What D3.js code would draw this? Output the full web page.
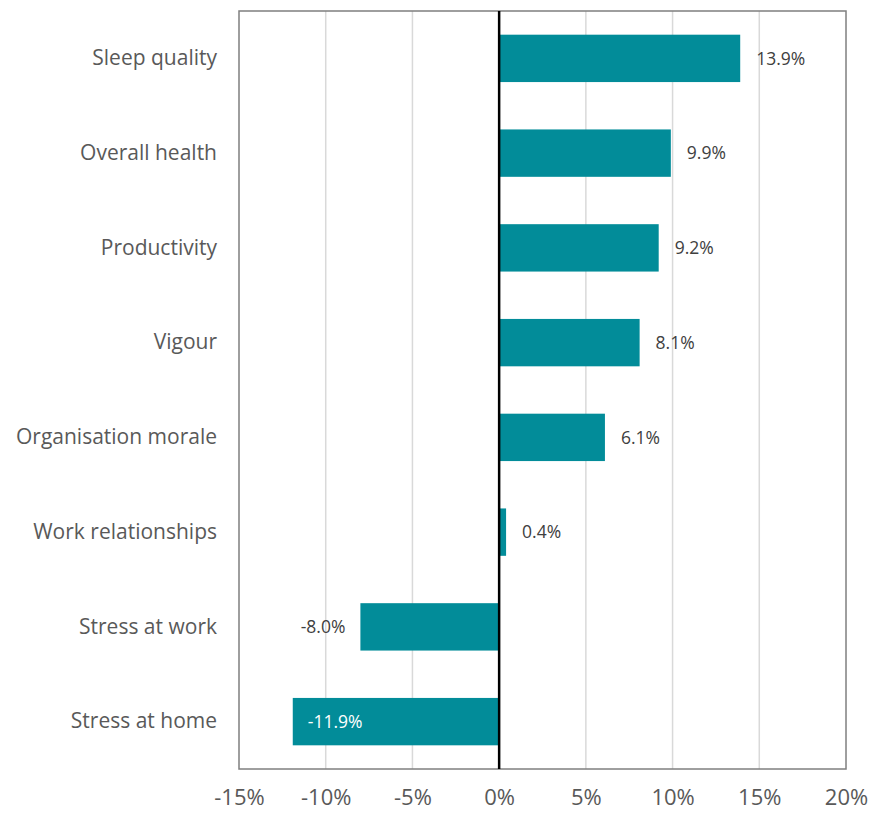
<!DOCTYPE html>
<html>
<head>
<meta charset="utf-8">
<script src="https://cdn.jsdelivr.net/npm/d3@7"></script>
<style>
  body { margin: 0; background: #fff; }
  text { font-family: "Open Sans", "Noto Sans", sans-serif; }
</style>
</head>
<body>
<div class="chart"></div>
<script>
var categories = ["Sleep quality", "Overall health", "Productivity", "Vigour",
    "Organisation morale", "Work relationships", "Stress at work", "Stress at home"];
var changes = [13.9, 9.9, 9.2, 8.1, 6.1, 0.4, -8.0, -11.9];
var tickValues = [-15, -10, -5, 0, 5, 10, 15, 20];

var w = 871;
var h = 813;
var margin = { top: 11, right: 25, bottom: 44, left: 239 };

var svg = d3.select(".chart")
    .append("svg")
    .attr("width", w)
    .attr("height", h);

var x = d3.scaleLinear()
    .domain([-15, 20])
    .range([margin.left, w - margin.right]);

var y = d3.scaleBand()
    .domain(categories)
    .range([margin.top, h - margin.bottom])
    .paddingInner(0.5)
    .paddingOuter(0.25);

// gridlines
svg.selectAll(".grid")
    .data(tickValues.filter(function(d) { return d !== 0 && d !== -15 && d !== 20; }))
    .enter()
    .append("line")
    .attr("x1", function(d) { return x(d); })
    .attr("x2", function(d) { return x(d); })
    .attr("y1", margin.top)
    .attr("y2", h - margin.bottom)
    .attr("stroke", "#d9d9d9")
    .attr("stroke-width", 1.5);

// plot border
svg.append("rect")
    .attr("x", margin.left)
    .attr("y", margin.top)
    .attr("width", x(20) - x(-15))
    .attr("height", h - margin.bottom - margin.top)
    .attr("fill", "none")
    .attr("stroke", "#7f7f7f")
    .attr("stroke-width", 1.5);

// bars
svg.selectAll(".bar")
    .data(changes)
    .enter()
    .append("rect")
    .attr("x", function(d) { return x(Math.min(0, d)); })
    .attr("y", function(d, i) { return y(categories[i]); })
    .attr("width", function(d) { return Math.abs(x(d) - x(0)); })
    .attr("height", y.bandwidth())
    .attr("fill", "#028c99");

// zero line
svg.append("line")
    .attr("x1", x(0))
    .attr("x2", x(0))
    .attr("y1", margin.top)
    .attr("y2", h - margin.bottom)
    .attr("stroke", "#000")
    .attr("stroke-width", 2.5);

// value labels
svg.selectAll(".value")
    .data(changes)
    .enter()
    .append("text")
    .attr("x", function(d) {
        if (d >= 0) return x(d) + 16;
        if (d < -10) return x(d) + 15;
        return x(d) - 15;
    })
    .attr("y", function(d, i) { return y(categories[i]) + y.bandwidth() / 2; })
    .attr("dy", "0.35em")
    .attr("text-anchor", function(d) { return (d >= 0 || d < -10) ? "start" : "end"; })
    .attr("fill", function(d) { return d < -10 ? "#fff" : "#404040"; })
    .attr("font-size", 17.5)
    .text(function(d) { return d.toFixed(1) + "%"; });

// category labels
svg.append("g")
    .attr("transform", "translate(" + margin.left + ",0)")
    .call(d3.axisLeft(y).tickSize(0).tickPadding(22))
    .call(function(g) { g.select(".domain").remove(); })
    .selectAll("text")
    .attr("font-size", 21)
    .attr("fill", "#595959");

// x axis labels
svg.append("g")
    .attr("transform", "translate(0," + (h - margin.bottom) + ")")
    .call(d3.axisBottom(x).tickValues(tickValues).tickSize(0).tickPadding(20)
        .tickFormat(function(d) { return d + "%"; }))
    .call(function(g) { g.select(".domain").remove(); })
    .selectAll("text")
    .attr("font-size", 22)
    .attr("fill", "#595959");
</script>
</body>
</html>
